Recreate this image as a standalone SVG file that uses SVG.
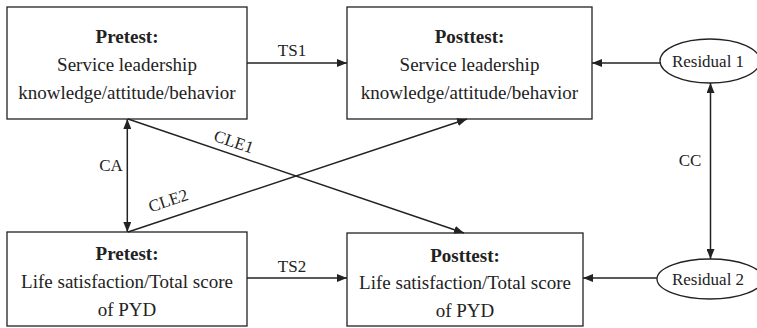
<svg xmlns="http://www.w3.org/2000/svg" width="757" height="328" viewBox="0 0 757 328">
<style>
.box{fill:#fff;stroke:#222;stroke-width:1.3}
.t{font-family:"Liberation Serif","Times New Roman",serif;font-size:19px;fill:#222;text-anchor:middle}
.b{font-weight:bold}
.l{font-family:"Liberation Serif","Times New Roman",serif;font-size:17px;fill:#222;text-anchor:middle}
.c{stroke:#222;stroke-width:1.5;fill:none}
</style>
<defs>
<marker id="ah" viewBox="0 0 10 8" refX="10" refY="4" markerWidth="10" markerHeight="8" markerUnits="userSpaceOnUse" orient="auto-start-reverse">
<path d="M0,0 L10,4 L0,8 Z" fill="#222"/>
</marker>
</defs>
<rect width="757" height="328" fill="#fff"/>
<g id="n_pre_sl">
<rect class="box" x="7" y="7" width="240" height="112"/>
<text class="t b" x="127" y="43">Pretest:</text>
<text class="t" x="127" y="71">Service leadership</text>
<text class="t" x="127" y="99">knowledge/attitude/behavior</text>
</g>
<g id="n_post_sl">
<rect class="box" x="347" y="7" width="245" height="112"/>
<text class="t b" x="469.5" y="43">Posttest:</text>
<text class="t" x="469.5" y="71">Service leadership</text>
<text class="t" x="469.5" y="99">knowledge/attitude/behavior</text>
</g>
<g id="n_pre_ls">
<rect class="box" x="7" y="232" width="240" height="94"/>
<text class="t b" x="127" y="260">Pretest:</text>
<text class="t" x="127" y="288">Life satisfaction/Total score</text>
<text class="t" x="127" y="316">of PYD</text>
</g>
<g id="n_post_ls">
<rect class="box" x="347" y="233" width="236" height="93"/>
<text class="t b" x="465" y="262">Posttest:</text>
<text class="t" x="465" y="289">Life satisfaction/Total score</text>
<text class="t" x="465" y="317">of PYD</text>
</g>
<g id="n_res1">
<ellipse class="box" cx="710" cy="61" rx="50" ry="22"/>
<text class="l" x="708" y="67">Residual 1</text>
</g>
<g id="n_res2">
<ellipse class="box" cx="710" cy="279" rx="53" ry="20"/>
<text class="l" x="708" y="285">Residual 2</text>
</g>
<g id="connectors">
<line class="c" x1="247" y1="63" x2="347" y2="63" marker-end="url(#ah)"/>
<line class="c" x1="247" y1="278" x2="347" y2="278" marker-end="url(#ah)"/>
<line class="c" x1="660" y1="63" x2="592" y2="63" marker-end="url(#ah)"/>
<line class="c" x1="657" y1="278" x2="583" y2="278" marker-end="url(#ah)"/>
<line class="c" x1="710.5" y1="83" x2="710.5" y2="259" marker-start="url(#ah)" marker-end="url(#ah)"/>
<line class="c" x1="127.3" y1="119" x2="127.3" y2="232" marker-start="url(#ah)" marker-end="url(#ah)"/>
<line class="c" x1="128" y1="119" x2="464" y2="233" marker-end="url(#ah)"/>
<line class="c" x1="128" y1="232" x2="467" y2="119" marker-end="url(#ah)"/>
<text class="l" x="292" y="56">TS1</text>
<text class="l" x="292" y="272">TS2</text>
<text class="l" x="111" y="171">CA</text>
<text class="l" x="690" y="166">CC</text>
<text class="l" transform="translate(232,147) rotate(18.7)">CLE1</text>
<text class="l" transform="translate(170,206) rotate(-18.5)">CLE2</text>
</g>
</svg>
